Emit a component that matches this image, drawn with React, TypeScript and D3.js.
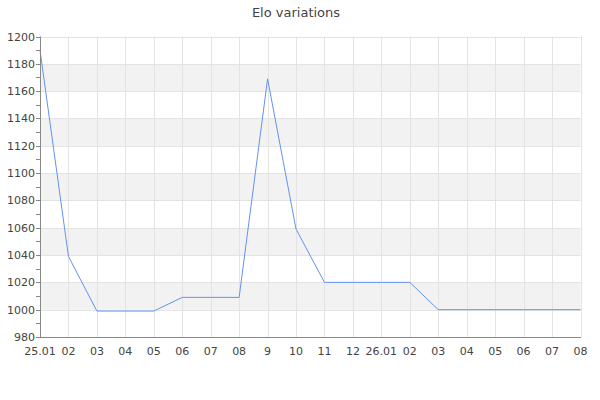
import React from "react";
import * as d3 from "d3";

const categories = ["25.01", "02", "03", "04", "05", "06", "07", "08", "9", "10", "11", "12", "26.01", "02b", "03b", "04b", "05b", "06b", "07b", "08b"];
const tickLabels = ["25.01", "02", "03", "04", "05", "06", "07", "08", "9", "10", "11", "12", "26.01", "02", "03", "04", "05", "06", "07", "08"];
const eloValues = [1190, 1039, 999, 999, 999, 1009, 1009, 1009, 1169, 1059, 1020, 1020, 1020, 1020, 1000, 1000, 1000, 1000, 1000, 1000];
const yTicks = [980, 1000, 1020, 1040, 1060, 1080, 1100, 1120, 1140, 1160, 1180, 1200];
const yMinorTicks = d3.range(980, 1201, 10);
const title = "Elo variations";

export default function App() {
  const W = 600, H = 400;
  const left = 40, right = 580.5, top = 36.5, bottom = 337;
  const x = d3.scalePoint<string>().domain(categories).range([left, right]);
  const y = d3.scaleLinear().domain([980, 1200]).range([bottom, top]);
  const line = d3.line<number>().x((_, i) => x(categories[i])!).y((d) => y(d));
  const font = "DejaVu Sans, sans-serif";
  const bands = yTicks.slice(0, -1).map((v, i) => ({ lo: v, hi: yTicks[i + 1], fill: i % 2 === 1 ? "#f2f2f2" : "#ffffff" }));
  return (
    <svg width={W} height={H} style={{ position: "absolute", left: 0, top: 0 }}>
      <rect x={0} y={0} width={W} height={H} fill="#fff" />
      <text x={296} y={17} textAnchor="middle" fontFamily={font} fontSize={13} fill="#444">{title}</text>
      {bands.map((b) => (
        <rect key={b.lo} x={left} y={y(b.hi)} width={right - left} height={y(b.lo) - y(b.hi)} fill={b.fill} />
      ))}
      {yTicks.map((v) => (
        <line key={"h" + v} x1={left} x2={right} y1={Math.round(y(v)) + 0.5} y2={Math.round(y(v)) + 0.5} stroke="#e3e3e3" />
      ))}
      {categories.map((c) => (
        <line key={"v" + c} x1={Math.round(x(c)!) + 0.5} x2={Math.round(x(c)!) + 0.5} y1={top} y2={bottom} stroke="#e3e3e3" />
      ))}
      <path d={line(eloValues) || ""} fill="none" stroke="#6193f0" strokeWidth={1} />
      <line x1={left + 0.5} x2={left + 0.5} y1={top} y2={bottom + 0.5} stroke="#888" />
      <line x1={left} x2={right + 0.5} y1={bottom + 0.5} y2={bottom + 0.5} stroke="#888" />
      {yMinorTicks.map((v) => (
        <line key={"t" + v} x1={left - 4} x2={left} y1={Math.round(y(v)) + 0.5} y2={Math.round(y(v)) + 0.5} stroke="#888" />
      ))}
      {yTicks.map((v) => (
        <text key={"yl" + v} x={left - 5} y={y(v) + 4} textAnchor="end" fontFamily={font} fontSize={11} fill="#444">{v}</text>
      ))}
      {categories.map((c, i) => (
        <text key={"xl" + c} x={x(c)!} y={355} textAnchor="middle" fontFamily={font} fontSize={11} fill="#444">{tickLabels[i]}</text>
      ))}
    </svg>
  );
}
